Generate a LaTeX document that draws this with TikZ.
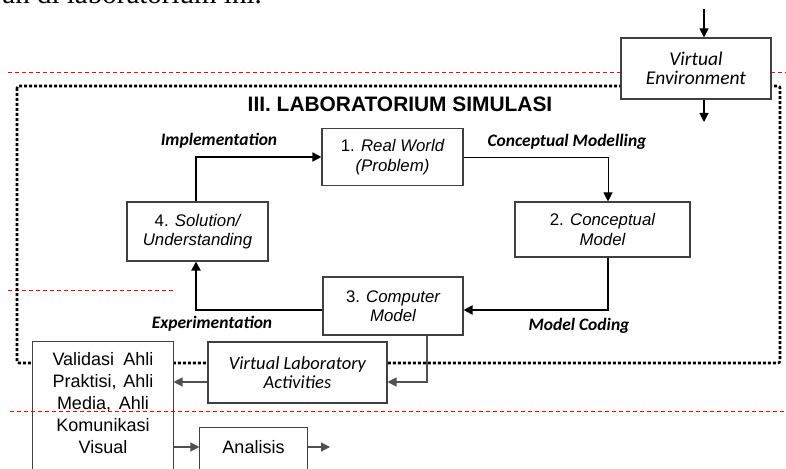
\documentclass[tikz,border=0pt]{standalone}
\usepackage{fontspec}
\setmainfont{Liberation Sans}
\newfontfamily\calfont{Carlito}
\newfontfamily\serffont{Liberation Serif}
\usetikzlibrary{arrows.meta}
\definecolor{boxgray}{HTML}{404040}
\definecolor{lingray}{HTML}{505050}
\begin{document}
\begin{tikzpicture}[x=1pt,y=-1pt,
  box/.style={draw=boxgray,line width=1.1pt,fill=white,inner sep=0pt,align=center,font=\fontsize{16.8}{19.5}\selectfont\itshape},
  arr/.style={-{Triangle[length=9pt,width=9pt]}},
  lab/.style={font=\calfont\bfseries\itshape\fontsize{17.5}{20}\selectfont,inner sep=0pt},
  redline/.style={draw=red,dash pattern=on 4pt off 3pt,line width=0.8pt},
  frame/.style={line width=2.6pt,dash pattern=on 3pt off 2pt,rounded corners=2pt}]
\useasboundingbox (0,0) rectangle (786,468);
% cropped line of running text
\node[anchor=base east, font=\serffont\fontsize{29}{32}\selectfont, inner sep=0pt] (toptext) at (262,4) {an di laboratorium ini.};
% guide lines behind
\draw[redline] (8,72) -- (786,72);
\draw[redline] (8,290) -- (175,290);
% frame
\draw[frame] (17,86) rectangle (780,363);
\node[font=\bfseries\fontsize{20.9}{24}\selectfont] (title) at (400,104) {III. LABORATORIUM SIMULASI};
% boxes
\node[box, font=\calfont\itshape\fontsize{19.5}{19.5}\selectfont, minimum width=150pt, minimum height=61pt] (VE) at (696,68.5) {Virtual\\Environment};
\node[box, minimum width=141pt, minimum height=57pt] (RW) at (392.5,157) {{\upshape 1.} Real World\\(Problem)};
\node[box, minimum width=141pt, minimum height=59pt] (SU) at (197.5,231.5) {{\upshape 4.} Solution/\\Understanding};
\node[box, minimum width=175pt, minimum height=55pt] (CM) at (602.5,229.5) {{\upshape 2.} Conceptual\\Model};
\node[box, minimum width=140pt, minimum height=58pt] (CP) at (393,306) {{\upshape 3.} Computer\\Model};
\node[box, font=\calfont\itshape\fontsize{18.5}{18.5}\selectfont, minimum width=179pt, minimum height=61pt] (VL) at (297.5,372.5) {Virtual Laboratory\\Activities};
\node[box, draw=none, font=\fontsize{18}{22}\selectfont, minimum width=140pt, minimum height=122pt] (VA) at (103,403)
  {\makebox[101pt][s]{Validasi Ahli}\\\makebox[101pt][s]{Praktisi, Ahli}\\\makebox[92pt][s]{Media, Ahli}\\Komunikasi\\Visual};
\draw[draw=boxgray, line width=1.1pt] ([yshift=-30pt]VA.south west) -- (VA.north west) -- (VA.north east) -- ([yshift=-30pt]VA.south east);
\node[box, draw=none, font=\fontsize{18}{20}\selectfont, minimum width=107pt, minimum height=38pt] (AN) at (253.5,447) {Analisis};
\draw[draw=boxgray, line width=1.1pt] ([yshift=-30pt]AN.south west) -- (AN.north west) -- (AN.north east) -- ([yshift=-30pt]AN.south east);
% red line in front
\draw[redline] (10,411) -- (786,411);
% connectors
\coordinate (vein) at (704,9);
\coordinate (veout) at (704,122);
\draw[arr, line width=1.1pt] (vein) -- (vein |- VE.north);
\draw[arr, line width=1.1pt] (veout |- VE.south) -- (veout);
\draw[arr, line width=1.5pt] ([xshift=-1.5pt]SU.north) |- (RW.west);
\draw[arr, line width=1pt] (RW.east) -| ([xshift=5.5pt]CM.north);
\draw[arr, line width=2pt] ([xshift=5.5pt]CM.south) |- ([yshift=-4pt]CP.east);
\draw[arr, line width=2pt] ([yshift=-4pt]CP.west) -| ([xshift=-1.5pt]SU.south);
\draw[arr, line width=1.2pt, draw=lingray] ([xshift=34pt]CP.south) |- ([yshift=-9.5pt]VL.east);
\draw[arr, line width=1.2pt, draw=lingray] ([yshift=-9.5pt]VL.west) -- ([yshift=-9.5pt]VL.west -| VA.east);
\draw[arr, line width=1.2pt, draw=lingray] (AN.west -| VA.east) -- (AN.west);
\coordinate (anout) at (330,447);
\draw[arr, line width=1.2pt, draw=lingray] (AN.east) -- (anout);
% labels
\node[lab] (limp) at (219,141) {Implementation};
\node[lab] (lcm) at (567,142) {Conceptual Modelling};
\node[lab] (lexp) at (212,324) {Experimentation};
\node[lab] (lmc) at (579,326) {Model Coding};
\end{tikzpicture}
\end{document}
